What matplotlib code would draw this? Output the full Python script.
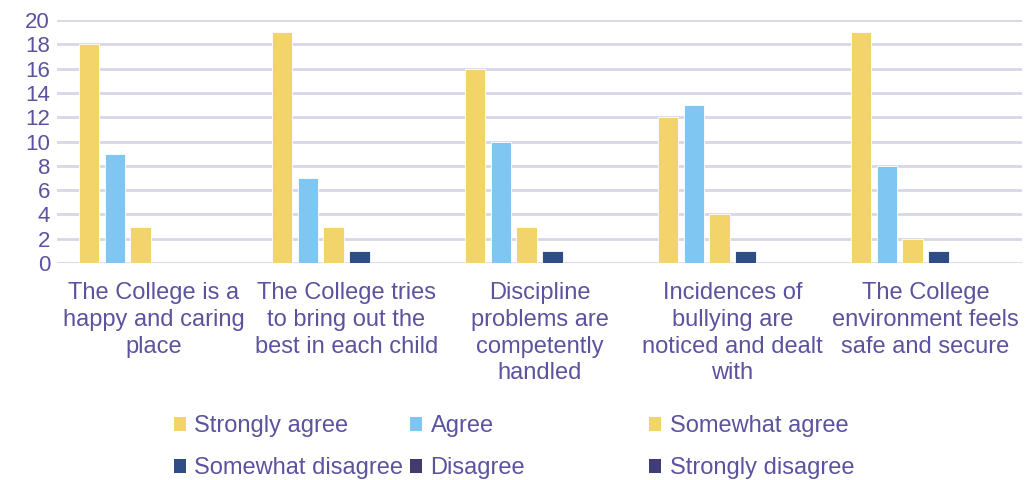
import numpy as np
import matplotlib
matplotlib.use('Agg')
import matplotlib.pyplot as plt
from matplotlib.patches import Patch

plt.rcParams['font.family'] = ['Liberation Sans', 'DejaVu Sans']

# data
categories = [
    "The College is a\nhappy and caring\nplace",
    "The College tries\nto bring out the\nbest in each child",
    "Discipline\nproblems are\ncompetently\nhandled",
    "Incidences of\nbullying are\nnoticed and dealt\nwith",
    "The College\nenvironment feels\nsafe and secure",
]
series_names = ["Strongly agree", "Agree", "Somewhat agree",
                "Somewhat disagree", "Disagree", "Strongly disagree"]
strongly_agree = [18, 19, 16, 12, 19]
agree = [9, 7, 10, 13, 8]
somewhat_agree = [3, 3, 3, 4, 2]
somewhat_disagree = [0, 1, 1, 1, 1]
disagree = [0, 0, 0, 0, 0]
strongly_disagree = [0, 0, 0, 0, 0]

colors = ['#F2D46B', '#7FC6F2', '#F2D46B', '#2E4D85', '#443A6E', '#3F3C78']
text_col = '#5B539E'
grid_col = '#D9D6EA'

values = [strongly_agree, agree, somewhat_agree, somewhat_disagree, disagree, strongly_disagree]

fig = plt.figure(figsize=(10.26, 4.8), dpi=100)
ax = fig.add_axes([0.0556, 0.452, 0.9404, 0.506])

x = np.arange(len(categories))
n = len(values)
slot = 0.8 / n
for i, v in enumerate(values):
    ax.bar(x - 0.4 + slot * (i + 0.5), v, width=slot * 0.8, color=colors[i],
           edgecolor='white', linewidth=0.6, zorder=3)

ax.set_xlim(-0.5, len(categories) - 0.5)
ax.set_ylim(0, 20)
ax.set_yticks(range(0, 21, 2))
ax.yaxis.grid(True, color=grid_col, linewidth=2, zorder=0)
for s in ax.spines.values():
    s.set_visible(False)
ax.tick_params(axis='y', length=0, colors=text_col, labelsize=16, pad=5)
ax.set_xticks(x)
ax.set_xticklabels(categories, linespacing=1.27)
ax.tick_params(axis='x', length=0, colors=text_col, labelsize=17, pad=14)

# legend in three fixed columns
handles = [Patch(facecolor=c) for c in colors]
col_x = [0.170, 0.400, 0.633]
for j in range(3):
    leg = fig.legend([handles[j], handles[j + 3]], [series_names[j], series_names[j + 3]],
                     loc='upper left', bbox_to_anchor=(col_x[j], 0.135), frameon=False,
                     fontsize=17, handlelength=0.5, handleheight=0.5, handletextpad=0.35,
                     labelspacing=0.85, borderpad=0, borderaxespad=0)
    for t in leg.get_texts():
        t.set_color(text_col)

fig.savefig('out.png', dpi=100)
